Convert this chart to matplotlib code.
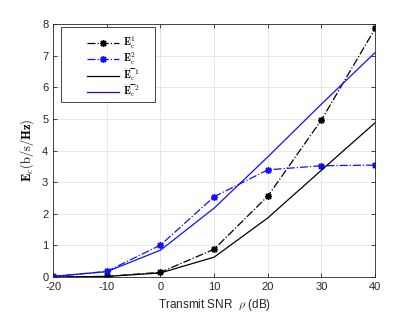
import matplotlib
matplotlib.use("Agg")
import matplotlib.pyplot as plt
from matplotlib.patches import Rectangle

# values
snr_db = [-20, -10, 0, 10, 20, 30, 40]
e1 = [0.0, 0.02, 0.15, 0.88, 2.56, 4.97, 7.86]
e2 = [0.02, 0.18, 1.01, 2.54, 3.39, 3.52, 3.54]
e1_tilde = [0.0, 0.02, 0.13, 0.63, 1.87, 3.38, 4.88]
e2_tilde = [0.02, 0.17, 0.85, 2.18, 3.80, 5.47, 7.10]

x_ticks = [-20, -10, 0, 10, 20, 30, 40]
y_ticks = [0, 1, 2, 3, 4, 5, 6, 7, 8]

plt.rcParams["font.family"] = ["Liberation Sans", "DejaVu Sans"]
plt.rcParams["mathtext.fontset"] = "cm"
plt.rcParams["axes.unicode_minus"] = False

blue = "#1010ff"
star = (8, 2, 0)  # MATLAB-like asterisk

fig = plt.figure(figsize=(4.15, 3.12), dpi=100)
ax = fig.add_axes([0.128, 0.112, 0.776, 0.811])

ax.plot(snr_db, e1, color="black", linestyle="-.", linewidth=0.9,
        marker=star, markersize=5, markeredgewidth=1.0,
        label=r"$\mathbf{E}_\mathrm{c}^1$")
ax.plot(snr_db, e2, color=blue, linestyle="-.", linewidth=0.9,
        marker=star, markersize=5, markeredgewidth=1.0,
        label=r"$\mathbf{E}_\mathrm{c}^2$")
ax.plot(snr_db, e1_tilde, color="black", linewidth=0.9,
        label=r"$\widetilde{\mathbf{E}_\mathrm{c}}^1$")
ax.plot(snr_db, e2_tilde, color=blue, linewidth=0.9,
        label=r"$\widetilde{\mathbf{E}_\mathrm{c}}^2$")

ax.set_xlim(-20, 40)
ax.set_ylim(0, 8)
ax.set_xticks(x_ticks)
ax.set_yticks(y_ticks)
ax.grid(True, color="#e6e6e6", linewidth=0.7)
ax.set_axisbelow(True)
ax.tick_params(direction="in", top=True, right=True, labelsize=8,
               colors="#262626", length=3, width=0.6)
for s in ax.spines.values():
    s.set_color("#262626")
    s.set_linewidth(0.6)

ax.set_xlabel(r"Transmit SNR  $\rho$ (dB)", fontsize=8.5, color="#262626")
ax.set_ylabel(r"$\mathbf{E}_c\mathrm{(b/s/}\mathbf{Hz}\mathrm{)}$", fontsize=9)

leg = ax.legend(loc="upper left", fontsize=7.5, frameon=False,
                handlelength=3.0, handletextpad=0.4, borderpad=0.0,
                labelspacing=0.0, bbox_to_anchor=(0.09, 0.978))
leg.set_zorder(5)

# MATLAB-style legend box, wider than the entries
fig.canvas.draw()
bb = leg.get_window_extent().transformed(ax.transAxes.inverted())
y0 = bb.y0 - 0.01
ax.add_patch(Rectangle((0.025, y0), 0.292, 0.988 - y0, transform=ax.transAxes,
                       facecolor="white", edgecolor="#262626", linewidth=0.6,
                       zorder=4))

fig.savefig("out.png", dpi=100)
